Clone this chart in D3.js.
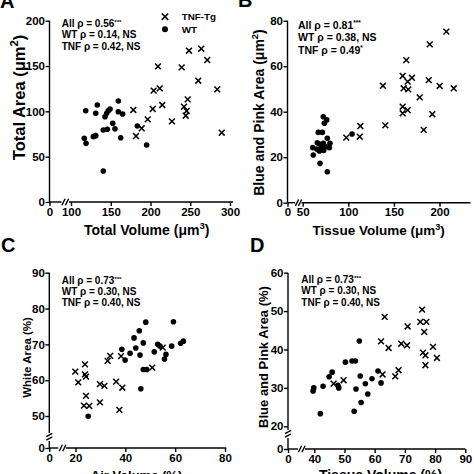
<!DOCTYPE html>
<html><head><meta charset="utf-8">
<script src="https://cdn.jsdelivr.net/npm/d3@7"></script>
<style>
html,body{margin:0;padding:0;background:#fff;}
svg{display:block;font-family:"Liberation Sans",Arial,Helvetica,sans-serif;font-weight:bold;}
</style></head><body>
<svg id="chart" width="474" height="474"></svg>
<script>
// ---------- DATA ----------
const aWT = [[118.5,100.7],[133.1,107.0],[131.1,97.8],[142.8,94.1],[144.9,97.8],[146.9,100.7],[149.1,102.6],[159.5,111.4],[159.5,99.6],[165.0,97.1],[152.5,86.8],[140.6,79.4],[145.7,80.2],[155.3,80.8],[128.1,72.1],[131.1,73.2],[116.7,70.4],[118.9,64.7],[162.5,70.9],[183.4,83.8],[195.2,62.9],[140.6,34.2]];
const aTNF = [[178.4,101.5],[181.8,72.8],[188.9,81.3],[196.5,91.2],[202.8,102.6],[204.0,122.8],[209.4,149.6],[211.6,125.4],[214.8,107.0],[227.0,89.0],[239.2,148.5],[242.1,105.1],[244.3,95.2],[245.5,100.4],[246.8,113.2],[248.4,166.9],[260.1,133.8],[263.9,169.1],[271.4,156.6],[284.0,124.3],[289.6,76.4]];
const aXTicks = [0,100,150,200,250,300];
const aYTicks = [0,50,100,150,200];
const aStats = [["All ρ = 0.56","***"],["WT ρ = 0.14, NS",""],["TNF ρ = 0.42, NS",""]];

const bWT = [[72.6,37.8],[76.3,36.4],[67.1,30.9],[71.5,30.9],[77.0,28.3],[61.0,24.2],[65.4,23.6],[69.0,25.7],[70.8,24.2],[72.6,26.1],[75.5,24.6],[79.2,24.2],[79.9,26.1],[68.2,22.7],[61.6,21.0],[69.0,17.3],[77.0,13.6],[104.1,30.2],[73.7,34.9],[73.0,23.0],[66.0,26.3]];
const bTNF = [[97.8,28.6],[113.2,33.7],[112.5,29.0],[138.0,51.4],[140.6,34.0],[159.6,55.7],[160.7,50.3],[159.6,42.2],[159.6,39.3],[163.6,62.7],[165.1,53.2],[165.1,40.7],[165.8,49.8],[169.8,54.9],[178.3,46.3],[182.7,32.0],[188.2,53.9],[189.3,69.6],[192.1,38.9],[200.2,51.3],[207.5,75.2],[215.6,50.3]];
const bXTicks = [0,50,100,150,200];
const bYTicks = [0,20,40,60,80];
const bStats = [["All ρ = 0.81","***"],["WT ρ = 0.38, NS",""],["TNF ρ = 0.49","*"]];

const cWT = [[48.2,76.2],[59.3,76.3],[45.6,73.8],[43.5,71.8],[47.2,70.4],[38.6,68.6],[44.2,69.0],[41.9,67.5],[39.9,65.6],[45.9,67.0],[51.6,67.9],[53.0,70.0],[53.9,69.5],[55.7,65.9],[56.3,67.2],[58.6,69.5],[62.2,70.3],[63.3,70.9],[47.2,63.0],[48.6,63.0],[46.2,57.6],[25.1,49.7]];
const cTNF = [[33.9,66.8],[32.9,65.4],[38.3,66.7],[23.8,64.4],[19.8,62.4],[23.8,61.6],[24.2,61.0],[21.1,59.4],[29.8,58.9],[31.6,58.4],[36.3,59.6],[38.8,57.9],[50.8,63.5],[55.0,69.1],[24.2,55.6],[29.8,53.8],[23.4,52.9],[25.5,52.8],[37.6,51.7]];
const cXTicks = [0,20,40,60,80];
const cYTicks = [0,50,60,70,80,90];
const cStats = [["All ρ = 0.73","***"],["WT ρ = 0.30, NS",""],["TNF ρ = 0.40, NS",""]];

const dWT = [[38.1,29.2],[39.2,30.0],[42.0,23.3],[42.9,30.4],[44.9,32.9],[45.9,34.1],[47.8,30.7],[48.1,30.0],[50.3,36.7],[52.5,37.0],[53.6,37.0],[54.9,42.2],[53.8,29.7],[53.2,23.9],[55.2,33.1],[55.5,26.2],[56.9,31.1],[57.7,28.4],[59.1,32.4],[61.1,34.4],[62.1,31.3]];
const dTNF = [[46.4,31.1],[49.7,32.0],[62.1,42.1],[62.6,33.5],[63.3,48.5],[64.6,40.4],[66.8,33.0],[67.9,34.6],[68.8,41.5],[70.7,41.1],[70.9,46.0],[75.1,47.2],[75.7,50.4],[77.1,47.2],[76.4,44.6],[76.0,39.2],[76.8,38.5],[76.8,35.9],[79.3,40.7],[80.6,37.8]];
const dXTicks = [0,40,50,60,70,80,90];
const dYTicks = [0,20,30,40,50,60];
const dStats = [["All ρ = 0.73","***"],["WT ρ = 0.30, NS",""],["TNF ρ = 0.40, NS",""]];

const legendLabels = ["TNF-Tg","WT"];

// ---------- LAYOUT ----------
const panels = [
  {letter:"A", lx:0, ly:8, wt:aWT, tnf:aTNF, xTicks:aXTicks, yTicks:aYTicks, stats:aStats,
   xDom:[0,100,300], xRng:[49.5,71,230], xMax:304, yDom:[0,200], yRng:[202,20.7], yMax:200,
   xg:[12,14,17.5,19.5], yg:null, tickFs:11.5,
   xTitle:["Total Volume (μm","3",")"], xtX:146.7, xtY:235, xtFs:14,
   yTitle:["Total Area (μm","2",")"], ytX:19, ytY:97.5, ytFs:16.5,
   sx:61.7, sy:27, sdy:11.3, sfs:10, legend:true},
  {letter:"B", lx:238, ly:7, wt:bWT, tnf:bTNF, xTicks:bXTicks, yTicks:bYTicks, stats:bStats,
   xDom:[0,50,200], xRng:[287.5,302.7,439.5], xMax:234, yDom:[0,80], yRng:[202.7,20.7], yMax:80,
   xg:[7.5,9.5,12.5,14], yg:null, tickFs:11.5,
   xTitle:["Tissue Volume (μm","3",")"], xtX:378.7, xtY:235, xtFs:13.5,
   yTitle:["Blue and Pink Area (μm","2",")"], ytX:258.5, ytY:112.5, ytFs:14,
   sx:298, sy:28.5, sdy:12.5, sfs:10.5},
  {letter:"C", lx:1, ly:252, wt:cWT, tnf:cTNF, xTicks:cXTicks, yTicks:cYTicks, stats:cStats,
   xDom:[0,20,80], xRng:[49.3,75.5,225], xMax:80.5, yDom:[0,50,90], yRng:[448,416,272.7], yMax:90,
   xg:[9,11.5,15,16.5], yg:[7,9.5,13,15], tickFs:11.5,
   xTitle:["Air Volume (%)","",""], xtX:136.5, xtY:480, xtFs:13,
   yTitle:["White Area (%)","",""], ytX:26.5, ytY:357.5, ytFs:11.5,
   sx:61.7, sy:284, sdy:11.2, sfs:10},
  {letter:"D", lx:250, ly:252, wt:dWT, tnf:dTNF, xTicks:dXTicks, yTicks:dYTicks, stats:dStats,
   xDom:[0,40,90], xRng:[288,314.3,465.3], xMax:90, yDom:[0,20,60], yRng:[449,426.3,272.7], yMax:60,
   xg:[10,12,15.5,17], yg:[11,13.5,17,19], tickFs:11.5,
   xTitle:["Tissue Volume (%)","",""], xtX:380.5, xtY:480, xtFs:14,
   yTitle:["Blue and Pink Area (%)","",""], ytX:263.5, ytY:357, ytFs:13,
   sx:301.3, sy:283, sdy:11.3, sfs:10}
];

const svg = d3.select("#chart");
const FONT = '"Liberation Sans",Arial,Helvetica,sans-serif';

function cross(cx, cy, s){ return `M${cx-s},${cy-s}L${cx+s},${cy+s}M${cx-s},${cy+s}L${cx+s},${cy-s}`; }

function titleText(t, parts, fs){
  t.append("tspan").text(parts[0]);
  if (parts[1]) {
    t.append("tspan").attr("dy", -fs*0.4).attr("font-size", fs*0.68).text(parts[1]);
    t.append("tspan").attr("dy", fs*0.4).text(parts[2]);
  }
}

function drawPanel(p){
  const g = svg.append("g");
  const x = d3.scaleLinear().domain(p.xDom).range(p.xRng);
  const y = d3.scaleLinear().domain(p.yDom).range(p.yRng);
  const x0 = x(0), y0 = y(0);

  // ticks and tick labels
  const xa = g.append("g").attr("transform",`translate(0,${y0})`)
    .call(d3.axisBottom(x).tickValues(p.xTicks).tickSize(4).tickPadding(1.5).tickFormat(d3.format("d")));
  const ya = g.append("g").attr("transform",`translate(${x0},0)`)
    .call(d3.axisLeft(y).tickValues(p.yTicks).tickSize(4).tickPadding(0.5).tickFormat(d3.format("d")));
  [xa, ya].forEach(a => {
    a.select(".domain").remove();
    a.selectAll("line").attr("stroke","#000").attr("stroke-width",1.4);
    a.selectAll("text").attr("fill","#000").attr("font-size",p.tickFs)
      .attr("font-weight","bold").attr("font-family",FONT);
  });

  // axis lines with breaks
  const xEnd = x(p.xMax), yTop = y(p.yMax);
  const segs = [];
  segs.push([x0, y0, x0 + p.xg[0], y0]);
  segs.push([x0 + p.xg[3], y0, xEnd, y0]);
  [p.xg[1], p.xg[2]].forEach(o => segs.push([x0+o-1.6, y0+3.2, x0+o+1.6, y0-3.2]));
  if (p.yg) {
    segs.push([x0, y0, x0, y0 - p.yg[0]]);
    segs.push([x0, y0 - p.yg[3], x0, yTop]);
    [p.yg[1], p.yg[2]].forEach(o => segs.push([x0-3, y0-o+1.6, x0+3, y0-o-1.6]));
  } else {
    segs.push([x0, y0, x0, yTop]);
  }
  g.selectAll("line.ax").data(segs).join("line").attr("class","ax")
    .attr("x1",d=>d[0]).attr("y1",d=>d[1]).attr("x2",d=>d[2]).attr("y2",d=>d[3])
    .attr("stroke","#000").attr("stroke-width",1.4);

  // marks
  g.selectAll("path.tnf").data(p.tnf).join("path").attr("class","tnf")
    .attr("d", d => cross(x(d[0]), y(d[1]), 2.9))
    .attr("stroke","#000").attr("stroke-width",1.5).attr("fill","none");
  g.selectAll("circle.wt").data(p.wt).join("circle").attr("class","wt")
    .attr("cx", d => x(d[0])).attr("cy", d => y(d[1])).attr("r", 2.8).attr("fill","#000");

  // stats text
  p.stats.forEach((s, i) => {
    const t = g.append("text").attr("x", p.sx).attr("y", p.sy + i*p.sdy)
      .attr("font-size", p.sfs).attr("fill","#000");
    t.append("tspan").text(s[0]);
    if (s[1]) t.append("tspan").attr("dy", -3.5).attr("font-size", p.sfs*0.62).text(s[1]);
  });

  // titles
  const xt = g.append("text").attr("x", p.xtX).attr("y", p.xtY).attr("text-anchor","middle")
    .attr("font-size", p.xtFs).attr("fill","#000");
  titleText(xt, p.xTitle, p.xtFs);
  const yt = g.append("text").attr("transform", `translate(${p.ytX + p.ytFs*0.36},${p.ytY}) rotate(-90)`)
    .attr("text-anchor","middle")
    .attr("font-size", p.ytFs).attr("fill","#000");
  titleText(yt, p.yTitle, p.ytFs);

  // panel letter
  g.append("text").attr("x", p.lx).attr("y", p.ly).attr("font-size", 20)
    .attr("fill","#000").text(p.letter);

  if (p.legend) {
    const lg = g.append("g");
    lg.append("path").attr("d", cross(165, 16.7, 3.2)).attr("stroke","#000").attr("stroke-width",1.6);
    lg.append("circle").attr("cx",165).attr("cy",29.3).attr("r",3).attr("fill","#000");
    lg.selectAll("text").data(legendLabels).join("text")
      .attr("x",181.7).attr("y",(d,i)=> 20.2 + i*12.6).attr("font-size",9.8).attr("fill","#000").text(d=>d);
  }
}

panels.forEach(drawPanel);
</script>
</body></html>
